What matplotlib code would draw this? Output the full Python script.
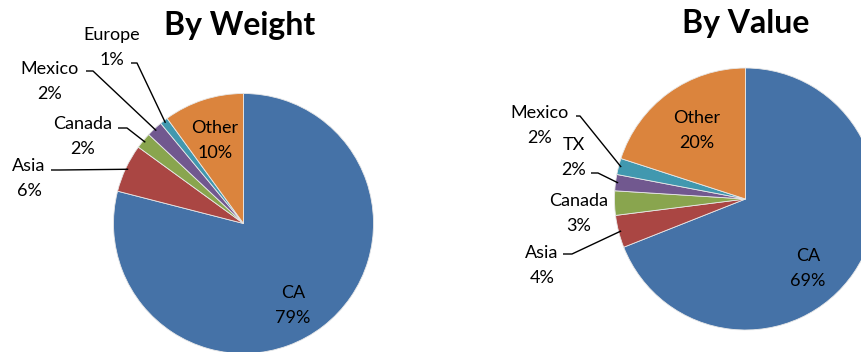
import numpy as np
import matplotlib
matplotlib.use('Agg')
import matplotlib.pyplot as plt

# Доли по весу
weight_names = ['CA', 'Asia', 'Canada', 'Mexico', 'Europe', 'Other']
weight_pct = [79, 6, 2, 2, 1, 10]

# Доли по стоимости
value_names = ['CA', 'Asia', 'Canada', 'TX', 'Mexico', 'Other']
value_pct = [69, 4, 3, 2, 2, 20]

blue, red, green, purple, teal, orange = '#4572A7', '#AA4643', '#89A54E', '#71588F', '#4198AF', '#DB843D'
weight_colors = [blue, red, green, purple, teal, orange]
value_colors = [blue, red, green, purple, teal, orange]

W, H = 862, 352
FONT = 'Lato'
LABEL_SIZE = 13


def py(y):
    # пиксели сверху -> координаты осей снизу
    return H - y


def draw_pie(ax, values, colors, center, radius):
    wedges, _ = ax.pie(values, colors=colors, startangle=90, counterclock=False,
                       center=(center[0], py(center[1])), radius=radius,
                       wedgeprops={'edgecolor': '#e8e8e8', 'linewidth': 0.6})
    return wedges


def wedge_point(wedge, k=0.98):
    ang = np.deg2rad((wedge.theta1 + wedge.theta2) / 2)
    cx, cy = wedge.center
    return cx + k * wedge.r * np.cos(ang), cy + k * wedge.r * np.sin(ang)


def label(ax, x, y, name, pct):
    ax.text(x, py(y), name, ha='center', va='baseline', fontsize=LABEL_SIZE, family=FONT)
    ax.text(x, py(y + 25), f'{pct}%', ha='center', va='baseline', fontsize=LABEL_SIZE, family=FONT)


def leader(ax, wedge, start, knee_x):
    ex, ey = wedge_point(wedge)
    xs = [start[0], knee_x, ex]
    ys = [py(start[1]), py(start[1]), ey]
    ax.plot(xs, ys, color='black', lw=1.0, solid_capstyle='butt')


fig = plt.figure(figsize=(W / 100, H / 100), dpi=100)
ax = fig.add_axes([0, 0, 1, 1])

w_wedges = draw_pie(ax, weight_pct, weight_colors, (243.5, 223.5), 130)
v_wedges = draw_pie(ax, value_pct, value_colors, (745.5, 199), 131)

ax.set_xlim(0, W)
ax.set_ylim(0, H)
ax.set_aspect('equal')
ax.axis('off')

ax.text(240, py(35), 'By Weight', ha='center', va='baseline', fontsize=23, fontweight='bold', family=FONT)
ax.text(746, py(33), 'By Value', ha='center', va='baseline', fontsize=23, fontweight='bold', family=FONT)

# подписи для "By Weight"
w_pos = {'CA': (293, 298), 'Asia': (29, 171), 'Canada': (83, 129),
         'Mexico': (50, 74), 'Europe': (112, 40), 'Other': (215, 133)}
for name, pct in zip(weight_names, weight_pct):
    label(ax, *w_pos[name], name, pct)

leader(ax, w_wedges[4], (131, 63), 137)
leader(ax, w_wedges[3], (86, 71), 93)
leader(ax, w_wedges[2], (118, 128), 127)
leader(ax, w_wedges[1], (51, 170), 60)

# подписи для "By Value"
v_pos = {'CA': (808, 261), 'Asia': (542, 258), 'Canada': (579, 206),
         'TX': (574, 150), 'Mexico': (540, 118), 'Other': (697, 123)}
for name, pct in zip(value_names, value_pct):
    label(ax, *v_pos[name], name, pct)

leader(ax, v_wedges[4], (576, 116), 580)
leader(ax, v_wedges[3], (591, 173), 598)
leader(ax, v_wedges[1], (563, 254), 572)

fig.savefig('out.png', dpi=100)
